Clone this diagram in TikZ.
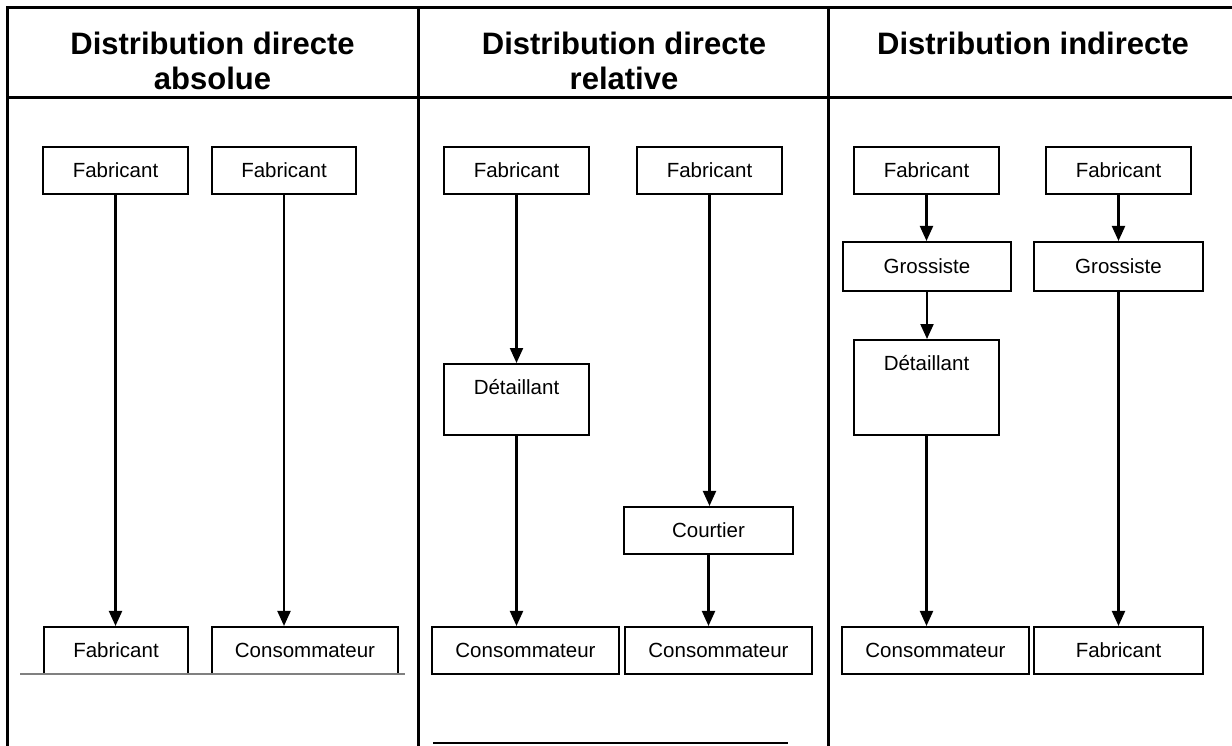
\documentclass[tikz,border=0pt]{standalone}
\usepackage{fontspec}
\setmainfont{Liberation Sans}
\usetikzlibrary{arrows.meta}
\tikzset{
  grid/.style={line width=3pt, line cap=rect},
  head/.style={font=\bfseries\fontsize{31}{35}\selectfont, align=center, anchor=base, inner sep=0pt},
  box/.style={draw, line width=2.1pt, font=\fontsize{20.5}{24}\selectfont, minimum height=47pt, inner sep=0pt},
  tallbox/.style={box, text height=30pt, inner ysep=0pt},
  arr/.style={line width=2.1pt, -{Triangle[length=15pt,width=13pt]}},
}
\begin{document}
\begin{tikzpicture}[x=1pt,y=-1pt]
\useasboundingbox (0,0) rectangle (1232,745);
% table
\draw[grid] (7,7) -- (1240,7);
\draw[grid] (7,97) -- (1240,97);
\draw[grid] (7,7) -- (7,750);
\draw[grid] (418,7) -- (418,750);
\draw[grid] (828,7) -- (828,750);
% headers (base anchor = last line's baseline)
\node[head] (h1) at (212.5,89) {Distribution directe\\absolue};
\node[head] (h2) at (624,89) {Distribution directe\\relative};
\node[head] (h3) at (1033,54) {Distribution indirecte};
% column 1
\node[box, minimum width=145pt] (a1) at (115.5,170.5) {Fabricant};
\node[box, minimum width=144pt] (a2) at (284,170.5) {Fabricant};
\node[box, minimum width=144pt] (a3) at (116,650.5) {Fabricant};
\node[box, minimum width=186pt] (a4) at (305,650.5) {Consommateur};
\draw[arr] (a1.south) -- (a1.south |- a3.north);
\draw[arr] (a2.south) -- (a2.south |- a4.north);
\draw[gray, line width=1.3pt] (20,674) -- (405,674);
% column 2
\node[box, minimum width=145pt] (b1) at (516.5,170.5) {Fabricant};
\node[box, minimum width=145pt] (b2) at (709.5,170.5) {Fabricant};
\node[tallbox, minimum width=145pt, text depth=41pt, anchor=north] (b3) at (516.5,363) {Détaillant};
\node[box, minimum width=169pt] (b4) at (708.5,530.5) {Courtier};
\node[box, minimum width=187pt] (b5) at (525.5,650.5) {Consommateur};
\node[box, minimum width=187pt] (b6) at (718.5,650.5) {Consommateur};
\draw[arr] (b1.south) -- (b3.north);
\draw[arr] (b2.south) -- (b2.south |- b4.north);
\draw[arr] (b3.south) -- (b3.south |- b5.north);
\draw[arr] (b4.south) -- (b4.south |- b6.north);
\draw[line width=1.5pt] (433,743) -- (788,743);
% column 3
\node[box, minimum width=145pt] (c1) at (926.5,170.5) {Fabricant};
\node[box, minimum width=145pt] (c2) at (1118.5,170.5) {Fabricant};
\node[box, minimum width=168pt, minimum height=49pt] (c3) at (927,266.5) {Grossiste};
\node[box, minimum width=169pt, minimum height=49pt] (c4) at (1118.5,266.5) {Grossiste};
\node[tallbox, minimum width=145pt, text depth=65pt, anchor=north] (c5) at (926.5,339) {Détaillant};
\node[box, minimum width=187pt] (c6) at (935.5,650.5) {Consommateur};
\node[box, minimum width=169pt] (c7) at (1118.5,650.5) {Fabricant};
\draw[arr] (c1.south) -- (c1.south |- c3.north);
\draw[arr] (c2.south) -- (c2.south |- c4.north);
\draw[arr] (c3.south) -- (c3.south |- c5.north);
\draw[arr] (c5.south) -- (c5.south |- c6.north);
\draw[arr] (c4.south) -- (c4.south |- c7.north);
\end{tikzpicture}
\end{document}
